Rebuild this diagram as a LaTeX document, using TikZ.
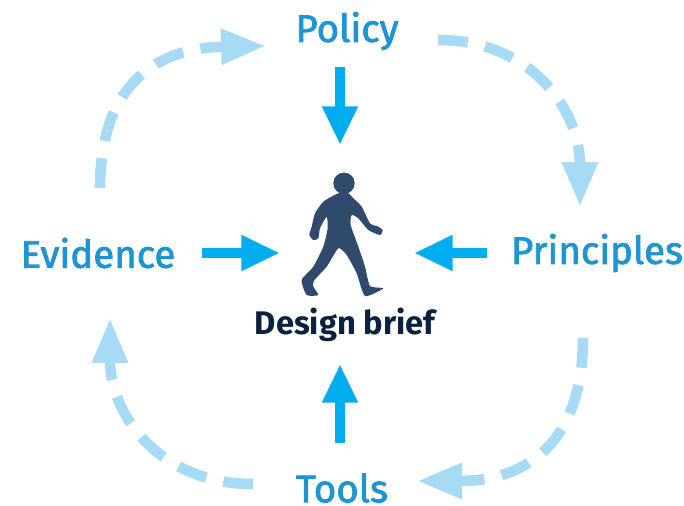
\documentclass[tikz,border=0pt]{standalone}
\usepackage{fontspec}
\setmainfont{Fira Sans}
\newfontfamily\stagefont{Fira Sans}[FakeBold=2]
\usetikzlibrary{arrows.meta}
\definecolor{labelblue}{HTML}{1F94D2}
\definecolor{pushblue}{HTML}{00AEEF}
\definecolor{paleblue}{HTML}{A6DAF5}
\definecolor{walkerblue}{HTML}{304A6B}
\definecolor{briefblue}{HTML}{0A2240}
\tikzset{
	stage/.style={text=labelblue,font=\stagefont\fontsize{21.9}{26}\selectfont,inner sep=0pt},
	push/.style={draw=pushblue,line width=6,-{Triangle[length=22,width=19]}},
	cycle/.style={draw=paleblue,line width=6,dash pattern=on 17 off 10,-{Triangle[length=25.5,width=19]}},
}
\begin{document}
\begin{tikzpicture}[x=0.02cm,y=-0.02cm,line join=round]
	\useasboundingbox (0,0) rectangle (684,506);
	\node[stage] (policy) at (347,31) {Policy};
	\node[stage] (evidence) at (98,253) {Evidence};
	\node[stage] (principles) at (597,253) {Principles};
	\node[stage] (tools) at (342,488) {Tools};
	\node[font=\fontsize{18.6}{22}\selectfont\bfseries,text=briefblue,inner sep=0pt] (brief) at (345,325) {Design brief};
	\coordinate (walker) at (340,253);
	% walking figure
	\fill[walkerblue] (344,183.3) circle (10.7);
	\begin{scope}[shift={(280,160)},scale=1/3]
		\fill[walkerblue] plot[smooth cycle,tension=0.35] coordinates {(175,100) (130,125) (105,160) (95,200) (88,225) (100,240) (115,235) (120,205) (140,170) (143,205) (130,260) (100,320) (65,360) (80,405) (115,405) (100,380) (102,362) (140,320) (175,265) (200,285) (230,340) (255,408) (310,385) (270,378) (255,320) (235,260) (212,195) (215,165) (235,175) (265,210) (300,225) (308,210) (295,200) (270,190) (245,140) (215,110) (205,100)};
	\end{scope}
	% arrows into the middle
	\draw[push,shorten <=9.6] (policy.south -| walker) -- ([shift={(0,-108)}]walker);
	\draw[push,shorten <=17] (tools.north -| walker) -- ([shift={(0,111)}]walker);
	\draw[push,shorten <=15] (evidence.east |- walker) -- ([shift={(-60,0)}]walker);
	\draw[push,shorten <=13.5] (principles.west |- walker) -- ([shift={(74,0)}]walker);
	% dashed cycle
	\draw[cycle] ([shift={(2,-65)}]evidence.center) .. controls +(0,-98) and +(-115,2) .. ([shift={(-81,15)}]policy.center);
	\draw[cycle] ([shift={(91,9)}]policy.center) .. controls +(95,0) and +(0,-95) .. ([shift={(-17,-46)}]principles.center);
	\draw[cycle] ([shift={(-14,85)}]principles.center) .. controls +(0,107) and +(107,0) .. ([shift={(75,-7)}]tools.center);
	\draw[cycle] ([shift={(-89,-4)}]tools.center) .. controls +(-95,0) and +(0,95) .. ([shift={(12,65)}]evidence.center);
\end{tikzpicture}
\end{document}
